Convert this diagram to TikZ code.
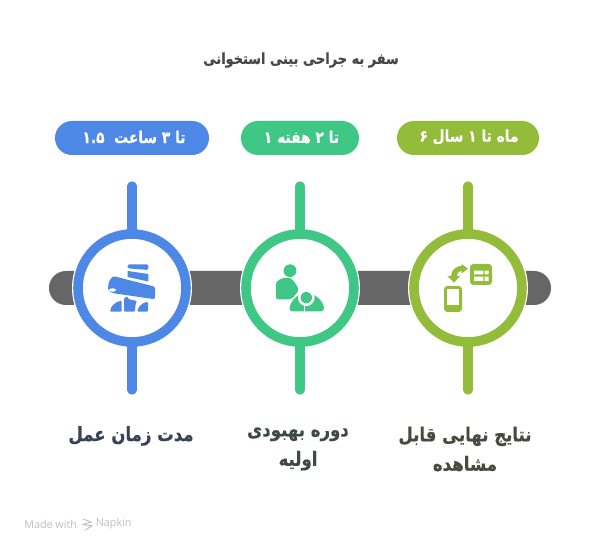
\documentclass[tikz,border=0pt]{standalone}
\usepackage{fontspec}
\newfontfamily\arabicfont[Script=Arabic,FakeStretch=0.85,FakeBold=0.4]{DejaVu Sans Bold}
\newfontfamily\markfont{Open Sans}
\TeXXeTstate=1
\definecolor{cblue}{HTML}{4E88E7}
\definecolor{cgreen}{HTML}{3EC785}
\definecolor{colive}{HTML}{92BC39}
\definecolor{cbar}{HTML}{666666}
\definecolor{ctitle}{HTML}{484848}
\definecolor{lblue}{HTML}{3A4256}
\definecolor{lgreen}{HTML}{3E4A44}
\definecolor{lolive}{HTML}{474A3C}
\tikzset{
  ringnode/.style={circle,draw=#1,line width=7.2pt,fill=white,minimum size=81pt,inner sep=0pt},
  pill/.style={rounded corners=12.7pt,fill=#1,draw=none,minimum height=25.5pt,inner sep=0pt},
  pilltext/.style={text=white,font=\arabicfont\fontsize{12.2}{14}\selectfont,inner sep=0pt},
  stem/.style={line width=7pt,line cap=round,draw=#1},
  lab/.style={align=center,font=\arabicfont\fontsize{14.6}{22}\selectfont,text=#1},
}
\begin{document}
\begin{tikzpicture}[x=0.75pt,y=-0.75pt]
\useasboundingbox (0,0) rectangle (600,552);
\fill[white] (0,0) rectangle (600,552);
% bar
\fill[cbar,rounded corners=12.7pt] (49,271) rectangle (551,305);
% halos
\foreach \c in {132,300,468}{
  \fill[white] (\c,288) circle[radius=60];
}
\coordinate (t1) at (132,186);\coordinate (b1) at (132,390);
\coordinate (t2) at (300,186);\coordinate (b2) at (300,390);
\coordinate (t3) at (468,186);\coordinate (b3) at (468,390);
\draw[stem=cblue] (t1)--(b1);
\draw[stem=cgreen] (t2)--(b2);
\draw[stem=colive] (t3)--(b3);
\node[ringnode=cblue] (r1) at (132,288) {};
\node[ringnode=cgreen] (r2) at (300,288) {};
\node[ringnode=colive] (r3) at (468,288) {};
% icon 1
\begin{scope}[cblue]
\fill[rounded corners=1] (127.7,264.3) -- (148.3,264.3) -- (148.3,270) -- (127.7,268.3) -- cycle;
\fill (127.7,271) -- (148.3,274) -- (148.3,281.5) -- (127.7,277) -- cycle;
\fill[rounded corners=1.6] (113,276) -- (155,286.7) -- (155,299.3) -- (112,293) -- (108,290.5) -- (108.5,282) -- cycle;
\fill[white] (112.5,290) ellipse[x radius=3.6,y radius=1.7];
\fill[rounded corners=.8] (110,311.7) .. controls (111,306) and (115,302) .. (121.7,300.7) -- (121.7,311.7) -- cycle;
\fill[rounded corners=.8] (124,311.7) -- (124,298) -- (128,296.5) -- (128,299) -- (137,301) .. controls (135.5,304) and (135,308) .. (135,311.7) -- cycle;
\fill[rounded corners=.8] (137.5,311.7) .. controls (138,307) and (142,303) .. (148,301.7) -- (148,311.7) -- cycle;
\end{scope}
% icon 2
\begin{scope}[cgreen]
\fill (290,270.7) circle[radius=6.4];
\fill[rounded corners=1.5] (276,299.3) -- (276,286) .. controls (276,281) and (281,278) .. (287,278) .. controls (292,278) and (295,282) .. (299,290) -- (291.7,299.3) -- cycle;
\fill (293,311.5) .. controls (289,311.5) and (289,307.5) .. (290,306) .. controls (291,302) and (295,297) .. (299,295) -- (314,295) .. controls (320,298) and (324,304) .. (324,308) .. controls (324,310.5) and (322.5,311.5) .. (320,311.5) -- cycle;
\fill[white] (306.3,297.7) circle[radius=8.3];
\fill (306.3,297.7) circle[radius=5.7];
\draw[white,line width=1pt] (304.6,305) -- (304.6,312);
\end{scope}
% icon 3
\begin{scope}[colive]
\fill[rounded corners=2.5] (444,286) rectangle (462,312);
\fill[white] (447,289.3) rectangle (459,305);
\fill[rounded corners=2.5] (470,264) rectangle (492,285);
\fill[white] (474,270.7) rectangle (483.3,274.3) (484.7,270.7) rectangle (488.7,274.3) (474,276.7) rectangle (483.3,281) (484.7,276.7) rectangle (488.7,281);
\fill (461.7,264) -- (468,268.7) -- (461.7,273.3) -- cycle;
\fill (447.3,276) -- (460,276) -- (454,282.7) -- cycle;
\fill (451,276.5) .. controls (451,270) and (456,266) .. (462,265.7) -- (462,271) .. controls (458.5,271.5) and (457,273) .. (457,276.5) -- cycle;
\end{scope}
% pills
\node[pill=cblue,minimum width=115.5pt] (p1) at (132,138) {};
\node[pill=cgreen,minimum width=88.5pt] (p2) at (300,138) {};
\node[pill=colive,minimum width=106.5pt] (p3) at (468,138) {};
\node[pilltext] (pt1) at (134,137) {\beginR تا ۳ ساعت \ \beginL ۱.۵\endL\endR};
\node[pilltext] (pt2) at (301.5,137) {\beginR تا ۲ هفته ۱\endR};
\node[pilltext] (pt3) at (469,137) {\beginR ماه تا ۱ سال ۶\endR};
% title
\node[font=\arabicfont\fontsize{11.4}{13}\selectfont,text=ctitle] (title) at (301,60) {\beginR سفر به جراحی بینی استخوانی\endR};
% labels
\node[lab=lblue] (l1) at (131,436) {\beginR مدت زمان عمل\endR};
\node[lab=lgreen] (l2) at (298,449) {\beginR دوره بهبودی\endR\\\beginR اولیه\endR};
\node[lab=lolive] (l3) at (465,449) {\beginR نتایج نهایی قابل\endR\\\beginR مشاهده\endR};
% watermark
\node[anchor=west,inner sep=0pt,text=black!25,font=\markfont\fontsize{8.1}{9}\selectfont] (m1) at (24,524) {Made with};
\node[anchor=west,inner sep=0pt,text=black!25,font=\markfont\fontsize{8.1}{9}\selectfont] (m2) at (95.5,524) {Napkin};
\draw[black!25,line width=.7pt] (83,519) -- (91,522) -- (83,524.5) -- (92,526) -- (85,530);
\end{tikzpicture}
\end{document}
